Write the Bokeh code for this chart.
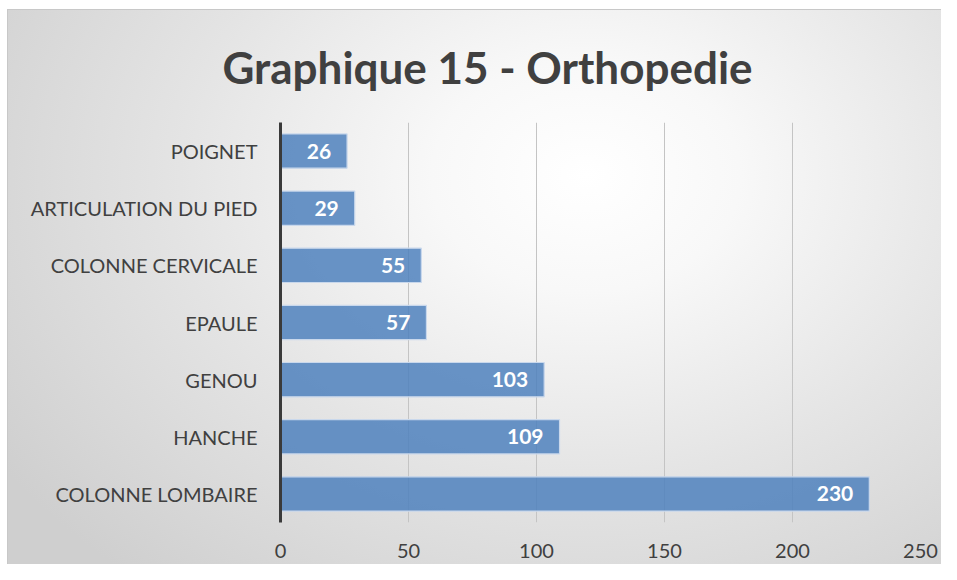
from bokeh.plotting import figure
from bokeh.models import Range1d, FactorRange, FixedTicker, ColumnDataSource
from bokeh.core.properties import value
from bokeh.embed import file_html
from bokeh.resources import INLINE

title = "Graphique 15 - Orthopedie"
categories = ["POIGNET", "ARTICULATION DU PIED", "COLONNE CERVICALE", "EPAULE",
              "GENOU", "HANCHE", "COLONNE LOMBAIRE"]
counts = [26, 29, 55, 57, 103, 109, 230]
x_ticks = [0, 50, 100, 150, 200, 250]

FONT = "Lato"
src = ColumnDataSource(dict(cat=categories, n=counts, lab=[str(v) for v in counts]))

p = figure(width=941, height=564, output_backend="svg", toolbar_location=None,
           y_range=FactorRange(factors=list(reversed(categories))),
           x_range=Range1d(0, 250),
           min_border_left=273, min_border_right=28, min_border_top=112, min_border_bottom=51,
           styles={"background": "radial-gradient(ellipse 75% 95% at 62% 30%, #ffffff 0%, #f8f8f8 22%, #e4e4e4 58%, #cfcfcf 100%)",
                   "border-top": "9px solid white", "border-left": "7px solid white",
                   "box-shadow": "inset 1px 1px 0 #c8c8c8"})
p.background_fill_alpha = 0
p.border_fill_alpha = 0
p.outline_line_color = None

p.title.text = title
p.title.align = "left"
p.title.offset = -58
p.title.standoff = 59
p.title.text_font = FONT
p.title.text_font_style = "bold"
p.title.text_font_size = "44px"
p.title.text_color = "#404040"

p.hbar(y="cat", right="n", left=0, height=0.6, source=src,
       fill_color="#4F81BD", fill_alpha=0.85, line_color="#C9D8EC", line_width=1.2)
p.text(x="n", y="cat", text="lab", source=src, x_offset=-16,
       text_align="right", text_baseline="middle", text_color="white",
       text_font=value(FONT), text_font_style="bold", text_font_size="21px")

p.xaxis.ticker = FixedTicker(ticks=x_ticks)
p.xaxis.axis_line_color = None
p.xaxis.major_tick_line_color = None
p.xaxis.minor_tick_line_color = None
p.xaxis.major_label_standoff = 15
p.xaxis.major_label_text_font = FONT
p.xaxis.major_label_text_font_size = "20px"
p.xaxis.major_label_text_color = "#404040"

p.yaxis.axis_line_color = "#3a3a3a"
p.yaxis.axis_line_width = 3
p.yaxis.major_tick_line_color = None
p.yaxis.minor_tick_line_color = None
p.yaxis.major_label_standoff = 17
p.yaxis.major_label_text_font = FONT
p.yaxis.major_label_text_font_size = "20px"
p.yaxis.major_label_text_color = "#404040"

p.xgrid.ticker = FixedTicker(ticks=x_ticks)
p.xgrid.grid_line_color = "#c4c4c4"
p.xgrid.grid_line_width = 1
p.ygrid.grid_line_color = None

open("out.html", "w").write(file_html(p, INLINE))
